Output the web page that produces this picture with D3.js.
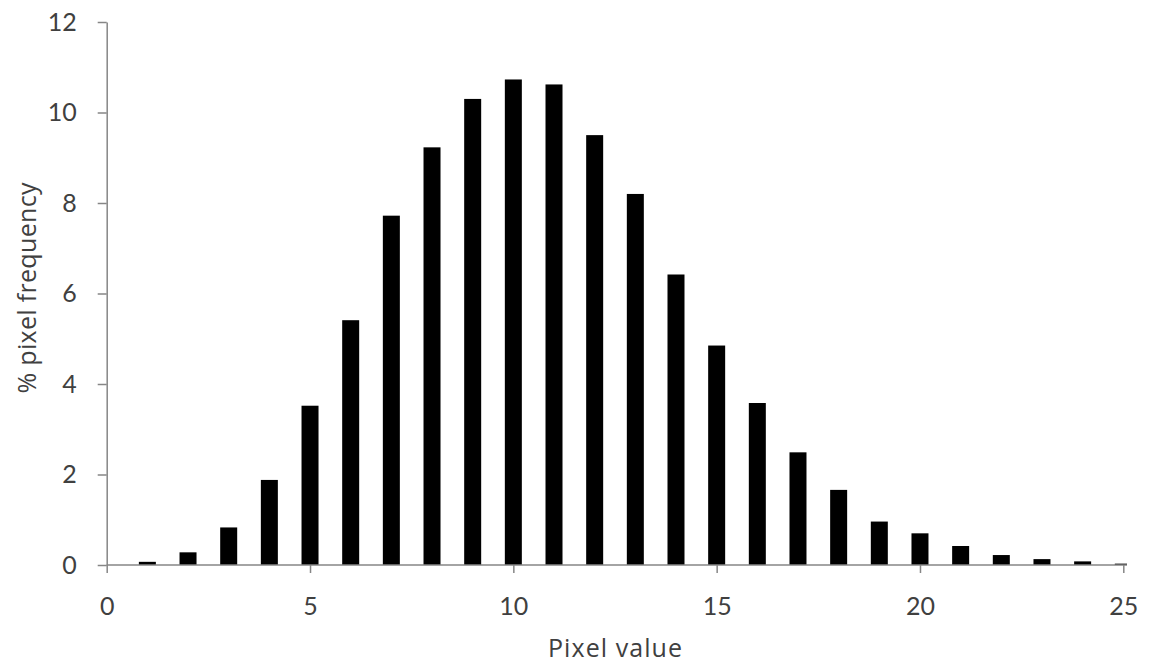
<!DOCTYPE html>
<html>
<head>
<meta charset="utf-8">
<script src="https://cdn.jsdelivr.net/npm/d3@7"></script>
<style>
  html, body { margin: 0; padding: 0; background: #fff; }
  svg { display: block; }
  .tick text { font-family: Lato, "Open Sans", sans-serif; fill: #404040; }
</style>
</head>
<body>
<svg id="chart" width="1156" height="668"></svg>
<script>
// Histogram of pixel values (percentage of pixels per value)
const pixelValues = [1, 2, 3, 4, 5, 6, 7, 8, 9, 10, 11, 12, 13, 14, 15, 16, 17, 18, 19, 20, 21, 22, 23, 24, 25];
const pixelFrequency = [0.07, 0.28, 0.83, 1.88, 3.52, 5.41, 7.72, 9.23, 10.30, 10.73, 10.62, 9.50,
                        8.20, 6.42, 4.85, 3.58, 2.49, 1.66, 0.96, 0.70, 0.42, 0.22, 0.13, 0.08, 0.03];
const xTicks = [0, 5, 10, 15, 20, 25];
const yTicks = [0, 2, 4, 6, 8, 10, 12];

const svg = d3.select("#chart");
const plotLeft = 106.7, plotRightTick = 1123.3, plotTop = 22, plotBottom = 565;
const plotRight = 1127;

const x = d3.scaleLinear().domain([0, 25]).range([plotLeft, plotRightTick]);
const y = d3.scaleLinear().domain([0, 12]).range([plotBottom, plotTop]);
const barWidth = 17;
const axisColor = "#868686";

svg.append("clipPath").attr("id", "plot-clip")
  .append("rect")
  .attr("x", plotLeft).attr("y", 0)
  .attr("width", plotRight - plotLeft).attr("height", plotBottom);

// Bars
svg.append("g").attr("clip-path", "url(#plot-clip)")
  .selectAll("rect")
  .data(pixelValues.map((v, i) => ({ v, f: pixelFrequency[i] })))
  .join("rect")
  .attr("x", d => x(d.v) - barWidth / 2)
  .attr("y", d => y(d.f))
  .attr("width", barWidth)
  .attr("height", d => y(0) - y(d.f))
  .attr("fill", "#000");

// Y axis
const yAxis = svg.append("g")
  .attr("transform", `translate(${plotLeft},0)`)
  .call(d3.axisLeft(y).tickValues(yTicks).tickSize(9).tickSizeOuter(0).tickPadding(21));
yAxis.select(".domain").attr("stroke", axisColor).attr("stroke-width", 1.5);
yAxis.selectAll(".tick line").attr("stroke", axisColor).attr("stroke-width", 1.5);
yAxis.selectAll(".tick text").attr("font-size", 25);

// X axis
const xAxis = svg.append("g")
  .attr("transform", `translate(0,${plotBottom})`)
  .call(d3.axisBottom(x).tickValues(xTicks).tickSize(8).tickSizeOuter(0).tickPadding(24));
xAxis.select(".domain").remove();
xAxis.append("line")
  .attr("x1", plotLeft).attr("x2", plotRight)
  .attr("stroke", axisColor).attr("stroke-width", 1.5);
xAxis.selectAll(".tick line").attr("stroke", axisColor).attr("stroke-width", 1.5);
xAxis.selectAll(".tick text").attr("font-size", 25);

// Axis titles
svg.append("text")
  .attr("x", 615).attr("y", 657)
  .attr("text-anchor", "middle")
  .attr("font-family", "'Open Sans', Lato, sans-serif")
  .attr("font-size", 25)
  .attr("textLength", 134)
  .attr("fill", "#404040")
  .text("Pixel value");

svg.append("text")
  .attr("transform", "translate(36,288) rotate(-90)")
  .attr("text-anchor", "middle")
  .attr("font-family", "'Open Sans', Lato, sans-serif")
  .attr("font-size", 25)
  .attr("textLength", 211)
  .attr("fill", "#404040")
  .text("% pixel frequency");
</script>
</body>
</html>
